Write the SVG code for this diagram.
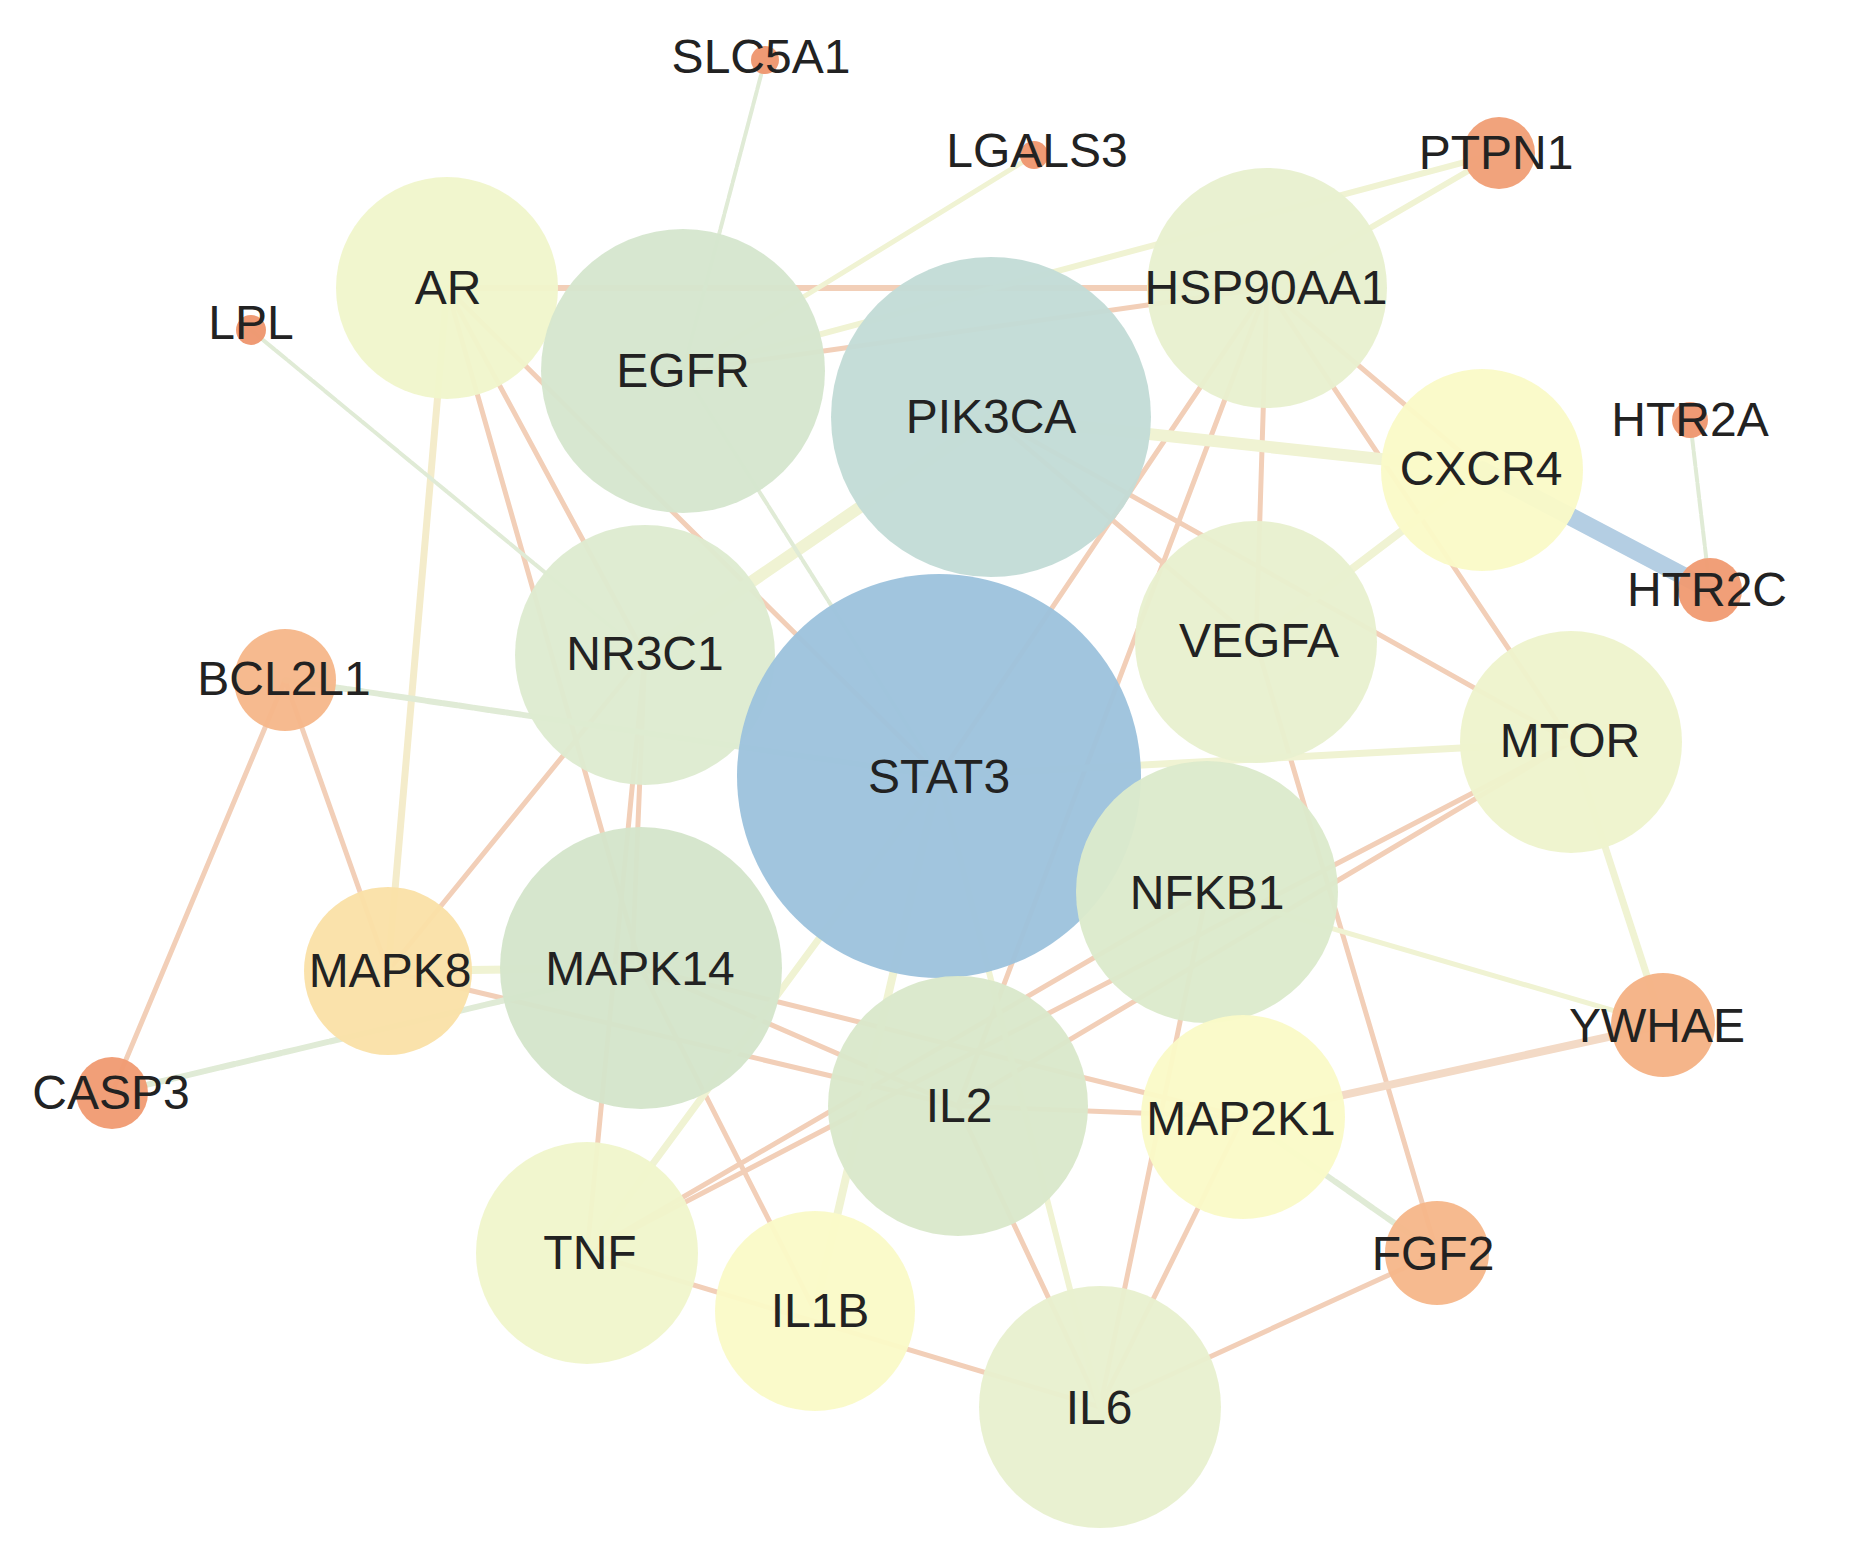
<svg xmlns="http://www.w3.org/2000/svg" width="1856" height="1557" viewBox="0 0 1856 1557">
<style>
.e{fill:none;stroke-linecap:round}
.o{stroke:#F2CFB8;stroke-width:5}
.y{stroke:#F0F3D3}
.c{stroke:#F4ECCB;stroke-width:7}
.g{stroke:#E0EBD6;stroke-width:4;stroke-dasharray:14 2}
.b{stroke:#B4CEE3;stroke-width:18}
.n circle{fill-opacity:0.96}
.n text{font-family:"Liberation Sans",Arial,sans-serif;font-size:48px;fill:#222;text-anchor:middle}
</style>
<rect width="1856" height="1557" fill="#fff"/>
<g id="edges">
<line class="e o" x1="447" y1="288" x2="1267" y2="288" style="stroke-width:6"/>
<line class="e o" x1="447" y1="288" x2="641" y2="968"/>
<line class="e o" x1="447" y1="288" x2="645" y2="655"/>
<line class="e o" x1="447" y1="288" x2="939" y2="776"/>
<line class="e o" x1="683" y1="371" x2="1267" y2="288"/>
<line class="e o" x1="1267" y1="288" x2="939" y2="776"/>
<line class="e o" x1="1267" y1="288" x2="958" y2="1106"/>
<line class="e o" x1="1267" y1="288" x2="1256" y2="642"/>
<line class="e o" x1="1267" y1="288" x2="1571" y2="742"/>
<line class="e o" x1="1267" y1="288" x2="1482" y2="470"/>
<line class="e o" x1="991" y1="417" x2="1571" y2="742"/>
<line class="e o" x1="991" y1="417" x2="1256" y2="642"/>
<line class="e o" x1="1256" y1="642" x2="1437" y2="1253"/>
<line class="e o" x1="1571" y1="742" x2="587" y2="1253"/>
<line class="e o" x1="1571" y1="742" x2="958" y2="1106"/>
<line class="e o" x1="1207" y1="892" x2="587" y2="1253"/>
<line class="e o" x1="1207" y1="892" x2="1100" y2="1407"/>
<line class="e o" x1="641" y1="968" x2="1243" y2="1117"/>
<line class="e o" x1="641" y1="968" x2="958" y2="1106"/>
<line class="e o" x1="388" y1="971" x2="958" y2="1106"/>
<line class="e o" x1="641" y1="968" x2="815" y2="1311"/>
<line class="e o" x1="645" y1="655" x2="587" y2="1253"/>
<line class="e o" x1="645" y1="655" x2="632" y2="968"/>
<line class="e o" x1="645" y1="655" x2="388" y2="971"/>
<line class="e o" x1="388" y1="971" x2="285" y2="680"/>
<line class="e o" x1="285" y1="680" x2="112" y2="1093"/>
<line class="e o" x1="587" y1="1253" x2="1100" y2="1407"/>
<line class="e o" x1="958" y1="1106" x2="1100" y2="1407"/>
<line class="e o" x1="1100" y1="1407" x2="1243" y2="1117"/>
<line class="e o" x1="1100" y1="1407" x2="1437" y2="1253"/>
<line class="e o" x1="958" y1="1106" x2="1243" y2="1117"/>
<line class="e o" x1="1243" y1="1117" x2="1663" y2="1025" style="stroke-width:8;stroke:#F3DAC6"/>
<line class="e y" x1="991" y1="417" x2="645" y2="655" style="stroke-width:12"/>
<line class="e y" x1="991" y1="417" x2="1482" y2="470" style="stroke-width:12"/>
<line class="e y" x1="939" y1="776" x2="1571" y2="742" style="stroke-width:7"/>
<line class="e y" x1="1482" y1="470" x2="1256" y2="642" style="stroke-width:8"/>
<line class="e y" x1="587" y1="1253" x2="939" y2="776" style="stroke-width:7"/>
<line class="e y" x1="815" y1="1311" x2="939" y2="776" style="stroke-width:8"/>
<line class="e y" x1="1100" y1="1407" x2="939" y2="776" style="stroke-width:6"/>
<line class="e y" x1="1207" y1="892" x2="1663" y2="1025" style="stroke-width:5"/>
<line class="e y" x1="1571" y1="742" x2="1663" y2="1025" style="stroke-width:7"/>
<line class="e y" x1="1499" y1="153" x2="1267" y2="288" style="stroke-width:6"/>
<line class="e y" x1="1499" y1="153" x2="683" y2="371" style="stroke-width:6"/>
<line class="e y" x1="1034" y1="155" x2="683" y2="371" style="stroke-width:5"/>
<line class="e y" x1="388" y1="971" x2="641" y2="968" style="stroke-width:8"/>
<line class="e c" x1="447" y1="288" x2="388" y2="971"/>
<line class="e g" x1="765" y1="60" x2="683" y2="371"/>
<line class="e g" x1="251" y1="330" x2="645" y2="655"/>
<line class="e g" x1="683" y1="371" x2="939" y2="776"/>
<line class="e g" x1="285" y1="680" x2="939" y2="776" style="stroke-width:6"/>
<line class="e g" x1="112" y1="1093" x2="641" y2="968" style="stroke-width:6"/>
<line class="e g" x1="1690" y1="420" x2="1710" y2="590"/>
<line class="e g" x1="1243" y1="1117" x2="1437" y2="1253" style="stroke-width:6"/>
<line class="e b" x1="1482" y1="470" x2="1710" y2="590"/>
</g>
<g id="n-AR" class="n"><circle cx="447" cy="288" r="111" fill="#F0F6CC"/><text x="448" y="304">AR</text></g>
<g id="n-EGFR" class="n"><circle cx="683" cy="371" r="142" fill="#D5E6CE"/><text x="683" y="387">EGFR</text></g>
<g id="n-PIK3CA" class="n"><circle cx="991" cy="417" r="160" fill="#C3DCD6"/><text x="991" y="433">PIK3CA</text></g>
<g id="n-HSP90AA1" class="n"><circle cx="1267" cy="288" r="120" fill="#E8F0CF"/><text x="1266" y="304">HSP90AA1</text></g>
<g id="n-CXCR4" class="n"><circle cx="1482" cy="470" r="101" fill="#FAFAC8"/><text x="1481" y="485">CXCR4</text></g>
<g id="n-NR3C1" class="n"><circle cx="645" cy="655" r="130" fill="#DEEBD0"/><text x="645" y="670">NR3C1</text></g>
<g id="n-STAT3" class="n"><circle cx="939" cy="776" r="202" fill="#9DC3DD"/><text x="939" y="793">STAT3</text></g>
<g id="n-VEGFA" class="n"><circle cx="1256" cy="642" r="121" fill="#E8F0CF"/><text x="1259" y="657">VEGFA</text></g>
<g id="n-MTOR" class="n"><circle cx="1571" cy="742" r="111" fill="#EEF4CD"/><text x="1570" y="757">MTOR</text></g>
<g id="n-NFKB1" class="n"><circle cx="1207" cy="892" r="131" fill="#DCEACC" fill-opacity="0.88"/><text x="1207" y="909">NFKB1</text></g>
<g id="n-MAPK8" class="n"><circle cx="388" cy="971" r="84" fill="#FAE1A8"/><text x="390" y="987">MAPK8</text></g>
<g id="n-MAPK14" class="n"><circle cx="641" cy="968" r="141" fill="#D4E5CB"/><text x="640" y="985">MAPK14</text></g>
<g id="n-IL2" class="n"><circle cx="958" cy="1106" r="130" fill="#DAE8CB"/><text x="959" y="1122">IL2</text></g>
<g id="n-MAP2K1" class="n"><circle cx="1243" cy="1117" r="102" fill="#FAFAC8"/><text x="1241" y="1135">MAP2K1</text></g>
<g id="n-TNF" class="n"><circle cx="587" cy="1253" r="111" fill="#F0F6CC"/><text x="590" y="1269">TNF</text></g>
<g id="n-IL1B" class="n"><circle cx="815" cy="1311" r="100" fill="#FAFAC8"/><text x="820" y="1327">IL1B</text></g>
<g id="n-IL6" class="n"><circle cx="1100" cy="1407" r="121" fill="#E8F0CF"/><text x="1099" y="1424">IL6</text></g>
<g id="n-BCL2L1" class="n"><circle cx="285" cy="680" r="51" fill="#F6B78A"/><text x="284" y="695">BCL2L1</text></g>
<g id="n-FGF2" class="n"><circle cx="1437" cy="1253" r="52" fill="#F6B78A"/><text x="1433" y="1270">FGF2</text></g>
<g id="n-YWHAE" class="n"><circle cx="1663" cy="1025" r="52" fill="#F5B285"/><text x="1657" y="1042">YWHAE</text></g>
<g id="n-CASP3" class="n"><circle cx="112" cy="1093" r="36" fill="#F09B72"/><text x="111" y="1109">CASP3</text></g>
<g id="n-PTPN1" class="n"><circle cx="1499" cy="153" r="36" fill="#F09F77"/><text x="1496" y="169">PTPN1</text></g>
<g id="n-HTR2C" class="n"><circle cx="1710" cy="590" r="32" fill="#F09B72"/><text x="1707" y="606">HTR2C</text></g>
<g id="n-HTR2A" class="n"><circle cx="1690" cy="420" r="18" fill="#EE966E"/><text x="1690" y="436">HTR2A</text></g>
<g id="n-SLC5A1" class="n"><circle cx="765" cy="60" r="14" fill="#EE966E"/><text x="761" y="73">SLC5A1</text></g>
<g id="n-LGALS3" class="n"><circle cx="1034" cy="155" r="14" fill="#EE966E"/><text x="1037" y="167">LGALS3</text></g>
<g id="n-LPL" class="n"><circle cx="251" cy="330" r="15" fill="#EE966E"/><text x="251" y="339">LPL</text></g>
</svg>
